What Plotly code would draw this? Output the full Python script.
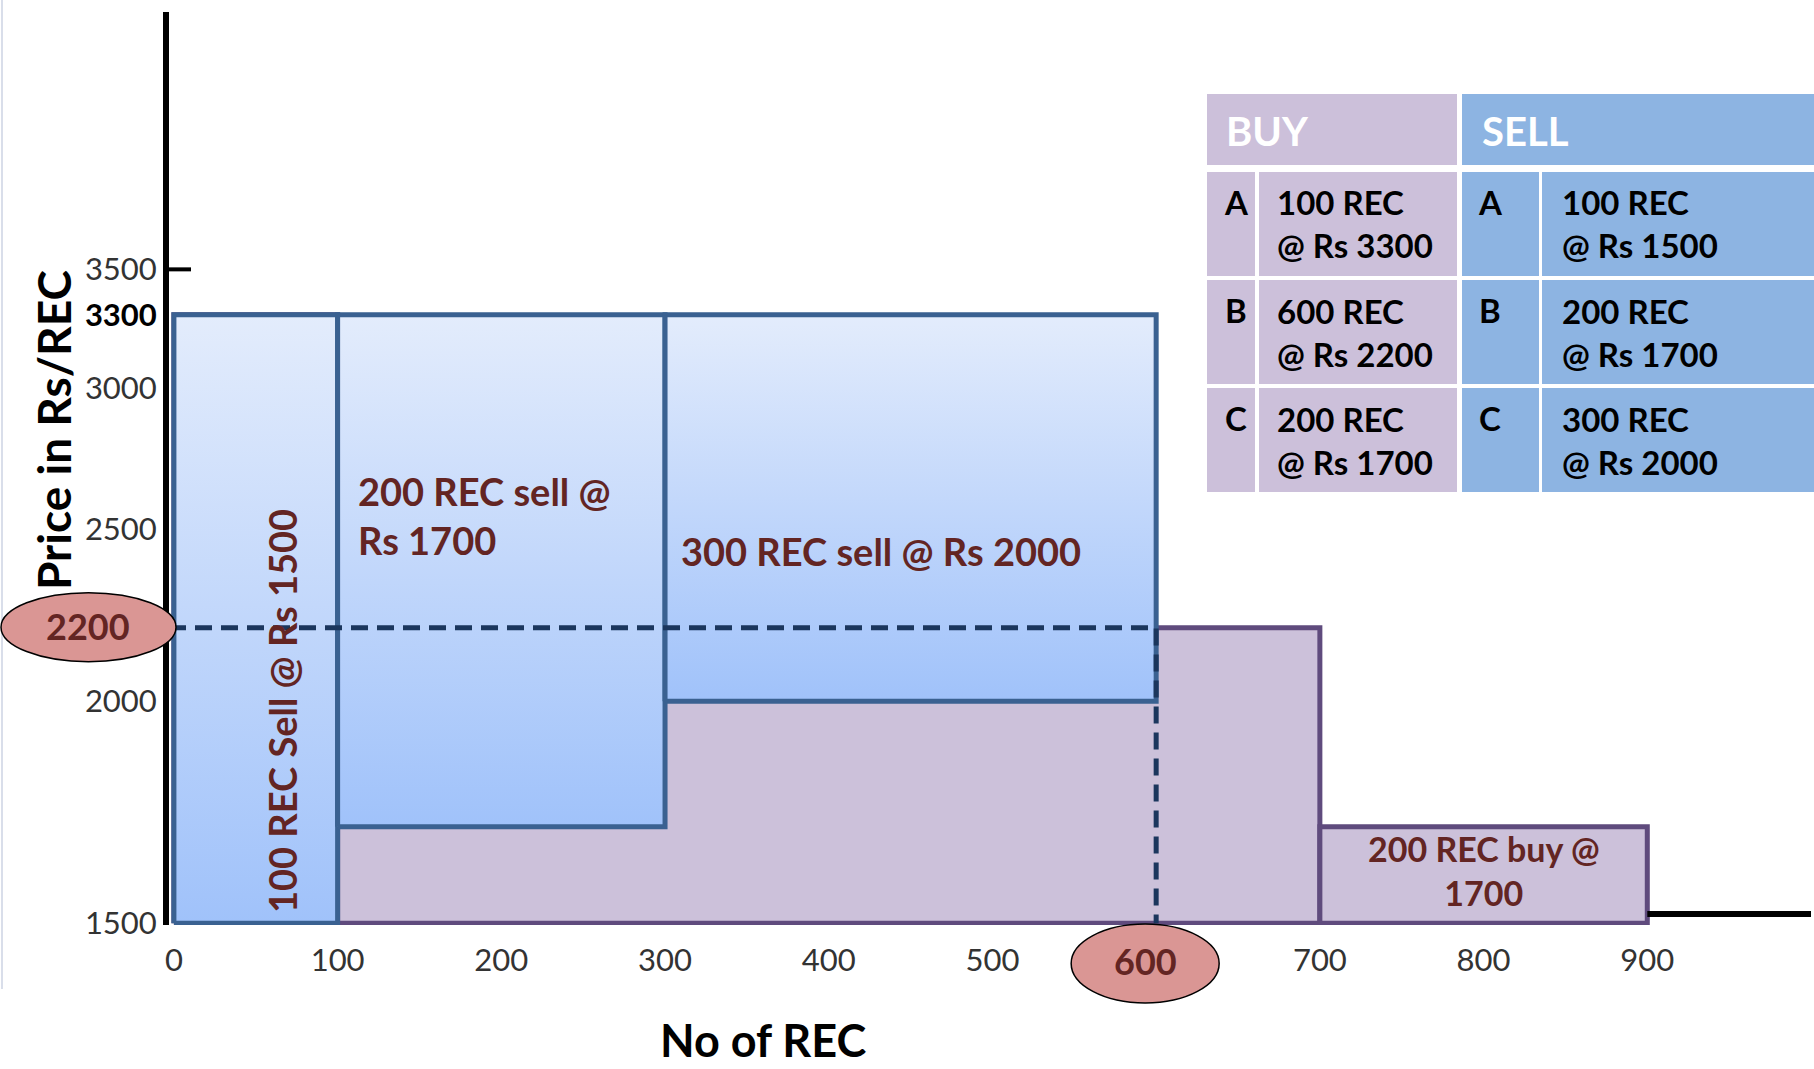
import math
import plotly.graph_objects as go

# ---------------- data ----------------
order_ids = ["A", "B", "C"]
buy_qty = [100, 600, 200]
buy_price = [3300, 2200, 1700]
sell_qty = [100, 200, 300]
sell_price = [1500, 1700, 2000]
clearing_qty = 600
clearing_price = 2200
price_floor = 1500
x_tick_vals = [0, 100, 200, 300, 400, 500, 700, 800, 900]
y_tick_vals = [1500, 2000, 2500, 3000, 3300, 3500]

# ---------------- geometry / style ----------------
W, H = 1814, 1069
ML, MR, MT, MB = 169, 3, 12, 144
X_RANGE = [-3, 1000]
Y_RANGE = [3.1751, 3.6889]  # log10 units
PW = W - ML - MR
PH = H - MT - MB
FONT = "Lato"
DARK_RED = "#632523"
BUY_FILL = "#CCC1DA"
BUY_LINE = "#5F4B7D"
SELL_LINE = "#3A6191"
BUY_HEAD = "#CCC0DA"
SELL_HEAD = "#8DB4E2"


def paper_x(px):
    return (px - ML) / PW


def paper_y(py):
    return (H - MB - py) / PH


def paper_of_price(v):
    return (math.log10(v) - Y_RANGE[0]) / (Y_RANGE[1] - Y_RANGE[0])


def cum(q):
    out = [0]
    for v in q:
        out.append(out[-1] + v)
    return out


buy_edges = cum(buy_qty)
sell_edges = cum(sell_qty)
top_price = max(buy_price)

fig = go.Figure()

# buy blocks (purple)
for i in range(len(buy_qty)):
    x0, x1 = buy_edges[i], buy_edges[i + 1]
    p = buy_price[i]
    fig.add_trace(go.Scatter(
        x=[x0, x0, x1, x1, x0], y=[price_floor, p, p, price_floor, price_floor],
        mode="lines", fill="toself", fillcolor=BUY_FILL,
        line=dict(color=BUY_LINE, width=5), hoverinfo="skip", showlegend=False))

# sell blocks (blue gradient)
for i in range(len(sell_qty)):
    x0, x1 = sell_edges[i], sell_edges[i + 1]
    p = sell_price[i]
    fig.add_trace(go.Scatter(
        x=[x0, x0, x1, x1, x0], y=[p, top_price, top_price, p, p],
        mode="lines", fill="toself",
        fillgradient=dict(type="vertical",
                          colorscale=[[0, "#A0C2FA"], [1, "#E3ECFC"]]),
        line=dict(color=SELL_LINE, width=5), hoverinfo="skip", showlegend=False))

# clearing point dashed lines
fig.add_trace(go.Scatter(
    x=[X_RANGE[0], clearing_qty, clearing_qty],
    y=[clearing_price, clearing_price, price_floor],
    mode="lines", line=dict(color="#1B365D", width=5, dash="17px,9px"),
    hoverinfo="skip", showlegend=False))

shapes = []
annotations = []

# 3500 tick mark on y axis
shapes.append(dict(type="line", xref="paper", yref="paper",
                   x0=0, x1=22 / PW,
                   y0=paper_of_price(3500), y1=paper_of_price(3500),
                   line=dict(color="black", width=4)))
# x-axis stub beyond last buy block
shapes.append(dict(type="line", xref="x", yref="paper",
                   x0=buy_edges[-1], x1=X_RANGE[1],
                   y0=paper_y(914), y1=paper_y(914),
                   line=dict(color="black", width=6)))
# faint left border
shapes.append(dict(type="line", xref="paper", yref="paper",
                   x0=paper_x(2), x1=paper_x(2), y0=paper_y(0), y1=paper_y(989),
                   line=dict(color="#D9DEEA", width=2)))

# ellipse for clearing price
cy = paper_of_price(clearing_price)
shapes.append(dict(type="circle", xref="paper", yref="paper",
                   x0=paper_x(1), x1=paper_x(176),
                   y0=cy - 34 / PH, y1=cy + 35 / PH,
                   fillcolor="#DA9694", line=dict(color="black", width=1.5),
                   layer="above"))
annotations.append(dict(text=str(clearing_price), xref="paper", yref="paper",
                        x=paper_x(88), y=cy + 2 / PH, showarrow=False,
                        font=dict(family=FONT, size=36, color=DARK_RED, weight="bold")))

# ellipse for clearing quantity
shapes.append(dict(type="circle", xref="x", xsizemode="pixel", xanchor=clearing_qty,
                   x0=-85, x1=63, yref="paper",
                   y0=paper_y(1003), y1=paper_y(924),
                   fillcolor="#DA9694", line=dict(color="black", width=1.5),
                   layer="above"))
annotations.append(dict(text=str(clearing_qty), xref="x", yref="paper",
                        x=clearing_qty, xshift=-11, y=paper_y(961), showarrow=False,
                        font=dict(family=FONT, size=36, color=DARK_RED, weight="bold")))

# block labels
annotations.append(dict(
    text=f"{sell_qty[0]} REC Sell @ Rs {sell_price[0]}", textangle=-90,
    xref="paper", yref="paper", x=paper_x(282), y=paper_y(711), showarrow=False,
    font=dict(family=FONT, size=38, color=DARK_RED, weight="bold")))
annotations.append(dict(
    text=f"{sell_qty[1]} REC sell @<br>Rs {sell_price[1]}", align="left",
    xref="x", yref="paper", x=sell_edges[1], xshift=18, xanchor="left",
    y=paper_y(515), showarrow=False,
    font=dict(family=FONT, size=38, color=DARK_RED, weight="bold")))
annotations.append(dict(
    text=f"{sell_qty[2]} REC sell @ Rs {sell_price[2]}", align="left",
    xref="x", yref="paper", x=sell_edges[2], xshift=14, xanchor="left",
    y=paper_y(551), showarrow=False,
    font=dict(family=FONT, size=38, color=DARK_RED, weight="bold")))
annotations.append(dict(
    text=f"{buy_qty[2]} REC buy @<br>{buy_price[2]}", align="center",
    xref="x", yref="paper", x=(buy_edges[2] + buy_edges[3]) / 2,
    y=paper_y(870), showarrow=False,
    font=dict(family=FONT, size=34, color=DARK_RED, weight="bold")))

# axis titles
annotations.append(dict(text="Price in Rs/REC", textangle=-90, xref="paper", yref="paper",
                        x=paper_x(53), y=paper_y(430), showarrow=False,
                        font=dict(family=FONT, size=46, color="black", weight="bold")))
annotations.append(dict(text="No of REC", xref="paper", yref="paper",
                        x=paper_x(763), y=paper_y(1040), showarrow=False,
                        font=dict(family=FONT, size=45, color="black", weight="bold")))

# order table
col_buy_letter = (1207, 1255)
col_buy_text = (1259, 1457)
col_sell_letter = (1462, 1539)
col_sell_text = (1542, 1830)
head_y = (94, 165)


def rect(x0, x1, y0, y1, color):
    shapes.append(dict(type="rect", xref="paper", yref="paper",
                       x0=paper_x(x0), x1=paper_x(x1), y0=paper_y(y1), y1=paper_y(y0),
                       fillcolor=color, line=dict(width=0), layer="above"))


rect(col_buy_letter[0], col_buy_text[1], head_y[0], head_y[1], BUY_HEAD)
rect(col_sell_letter[0], col_sell_text[1], head_y[0], head_y[1], SELL_HEAD)
annotations.append(dict(text="BUY", xref="paper", yref="paper", x=paper_x(1224),
                        xanchor="left", y=paper_y(131), showarrow=False,
                        font=dict(family=FONT, size=40, color="white", weight="bold")))
annotations.append(dict(text="SELL", xref="paper", yref="paper", x=paper_x(1480),
                        xanchor="left", y=paper_y(131), showarrow=False,
                        font=dict(family=FONT, size=40, color="white", weight="bold")))

for i, oid in enumerate(order_ids):
    y0 = 172 + i * 108
    y1 = y0 + 104
    rect(*col_buy_letter, y0, y1, BUY_HEAD)
    rect(*col_buy_text, y0, y1, BUY_HEAD)
    rect(*col_sell_letter, y0, y1, SELL_HEAD)
    rect(*col_sell_text, y0, y1, SELL_HEAD)
    tfont = dict(family=FONT, size=33, color="black", weight="bold")
    annotations.append(dict(text=oid, xref="paper", yref="paper", x=paper_x(1236),
                            y=paper_y(y0 + 30), showarrow=False, font=tfont))
    annotations.append(dict(text=oid, xref="paper", yref="paper", x=paper_x(1490),
                            y=paper_y(y0 + 30), showarrow=False, font=tfont))
    annotations.append(dict(text=f"{buy_qty[i]} REC<br>@ Rs {buy_price[i]}", align="left",
                            xref="paper", yref="paper", x=paper_x(1275), xanchor="left",
                            y=paper_y((y0 + y1) / 2), showarrow=False, font=tfont))
    annotations.append(dict(text=f"{sell_qty[i]} REC<br>@ Rs {sell_price[i]}", align="left",
                            xref="paper", yref="paper", x=paper_x(1560), xanchor="left",
                            y=paper_y((y0 + y1) / 2), showarrow=False, font=tfont))

for a in annotations:
    a.setdefault("xanchor", "center")
    a.setdefault("yanchor", "middle")

y_tick_text = []
for v in y_tick_vals:
    if v == top_price:
        y_tick_text.append(f'<span style="color:#000000"><b>{v}</b></span>')
    else:
        y_tick_text.append(str(v))

fig.update_layout(
    width=W, height=H,
    margin=dict(l=ML, r=MR, t=MT, b=MB, autoexpand=False),
    paper_bgcolor="white", plot_bgcolor="white",
    showlegend=False,
    shapes=shapes, annotations=annotations,
    xaxis=dict(range=X_RANGE, showgrid=False, zeroline=False, showline=False,
               tickvals=x_tick_vals, ticks="", ticklabelstandoff=14,
               tickfont=dict(family=FONT, size=31, color="#333333")),
    yaxis=dict(type="log", range=Y_RANGE, showgrid=False, zeroline=False,
               showline=True, linecolor="black", linewidth=6,
               tickvals=y_tick_vals, ticktext=y_tick_text, ticks="",
               tickfont=dict(family=FONT, size=31, color="#333333")),
)

fig.write_html("out.html")
